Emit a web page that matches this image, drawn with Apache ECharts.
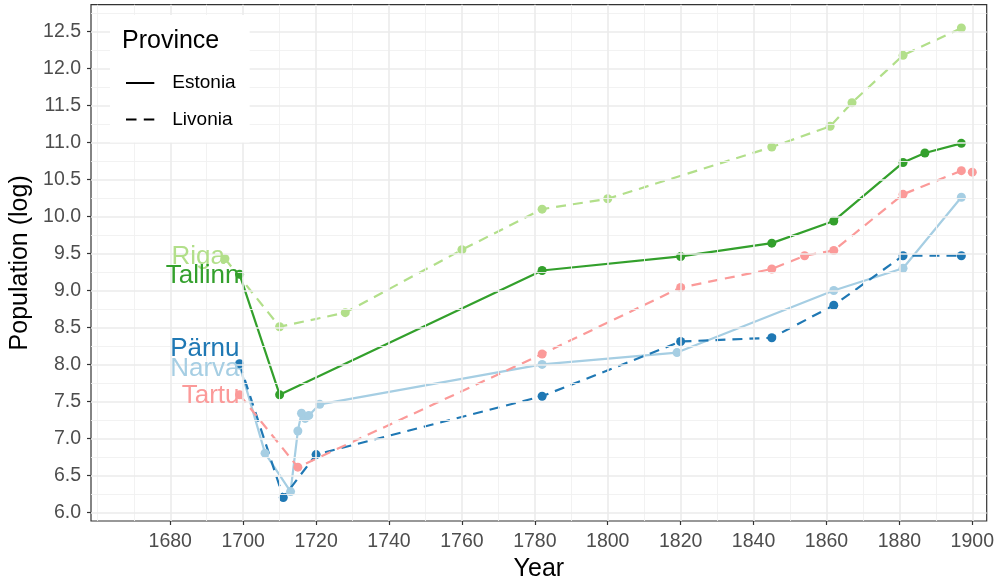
<!DOCTYPE html>
<html>
<head>
<meta charset="utf-8">
<script src="https://cdn.jsdelivr.net/npm/echarts@6/dist/echarts.min.js"></script>
<style>
  html, body { margin: 0; padding: 0; background: #ffffff; }
  #chart { width: 998px; height: 581px; }
</style>
</head>
<body>
<div id="chart"></div>
<script>
// ---- data: log population by town and year ----
const narvaYears   = [1699, 1706, 1713, 1715, 1716, 1717, 1718, 1721, 1782, 1819, 1862, 1881, 1897];
const narvaPop     = [7.99, 6.80, 6.28, 7.10, 7.34, 7.27, 7.31, 7.46, 8.00, 8.16, 9.00, 9.30, 10.26];

const parnuYears   = [1699, 1711, 1720, 1782, 1820, 1845, 1862, 1881, 1897];
const parnuPop     = [8.01, 6.20, 6.78, 7.57, 8.31, 8.36, 8.80, 9.47, 9.47];

const rigaYears    = [1695, 1710, 1728, 1760, 1782, 1800, 1845, 1861, 1867, 1881, 1897];
const rigaPop      = [9.43, 8.51, 8.70, 9.55, 10.10, 10.24, 10.94, 11.22, 11.54, 12.18, 12.55];

const tallinnYears = [1699, 1710, 1782, 1820, 1845, 1862, 1881, 1887, 1897];
const tallinnPop   = [9.22, 7.59, 9.27, 9.46, 9.64, 9.94, 10.73, 10.86, 10.99];

const tartuYears   = [1699, 1715, 1782, 1820, 1845, 1854, 1862, 1881, 1897, 1900];
const tartuPop     = [7.59, 6.61, 8.14, 9.04, 9.29, 9.47, 9.54, 10.30, 10.62, 10.60];

const townNames    = ['Narva', 'Pärnu', 'Riga', 'Tallinn', 'Tartu'];
const townProvince = ['Estonia', 'Livonia', 'Livonia', 'Estonia', 'Livonia'];
const provinces    = ['Estonia', 'Livonia'];

// axis breaks and scale limits
const xMajor = [1680, 1700, 1720, 1740, 1760, 1780, 1800, 1820, 1840, 1860, 1880, 1900];
const xMinor = [1660, 1670, 1690, 1710, 1730, 1750, 1770, 1790, 1810, 1830, 1850, 1870, 1890];
const yMajor = [6.0, 6.5, 7.0, 7.5, 8.0, 8.5, 9.0, 9.5, 10.0, 10.5, 11.0, 11.5, 12.0, 12.5];
const yMinor = [6.25, 6.75, 7.25, 7.75, 8.25, 8.75, 9.25, 9.75, 10.25, 10.75, 11.25, 11.75, 12.25, 12.75];
const xLimits = [1658.26, 1903.95];
const yLimits = [5.882, 12.865];

// ---- styling ----
const FONT = '"Liberation Sans", Arial, sans-serif';
const townColors = {
  'Narva': '#A6CEE3', 'Pärnu': '#1F78B4', 'Riga': '#B2DF8A',
  'Tallinn': '#33A02C', 'Tartu': '#FB9A99'
};
const dashPattern = [10, 7];
const lineType = p => (p === 'Estonia' ? 'solid' : dashPattern);
// legend keys: a solid bar and two dashes
const legendIcons = {
  'Estonia': 'path://M0,0H28.3V2H0Z',
  'Livonia': 'path://M0,0H10.5V2H0ZM17.8,0H28.3V2H17.8Z'
};
// vertical nudge of the town name drawn at each first point
const nameShift = { 'Narva': 4, 'Pärnu': -15, 'Riga': -2, 'Tallinn': 2, 'Tartu': 1 };

const towns = [
  [narvaYears, narvaPop], [parnuYears, parnuPop], [rigaYears, rigaPop],
  [tallinnYears, tallinnPop], [tartuYears, tartuPop]
].map(([yrs, pop], i) => ({
  name: townNames[i],
  province: townProvince[i],
  points: yrs.map((y, k) => [y, pop[k]])
}));

const series = [];

// panel grid lines (minor, then major)
function gridSeries(xs, ys, width, color) {
  return {
    type: 'line', data: [], silent: true, z: 1,
    markLine: {
      silent: true, symbol: ['none', 'none'], animation: false,
      label: { show: false },
      lineStyle: { color: color, width: width, type: 'solid' },
      emphasis: { disabled: true },
      data: xs.map(v => ({ xAxis: v })).concat(ys.map(v => ({ yAxis: v })))
    }
  };
}
series.push(gridSeries(xMinor, yMinor, 0.9, '#F0F0F0'));
series.push(gridSeries(xMajor, yMajor, 1.6, '#EBEBEB'));

// lines
towns.forEach(t => {
  series.push({
    type: 'line', name: t.name + ' line', data: t.points,
    showSymbol: false, symbol: 'none', z: 3, silent: true,
    lineStyle: { color: townColors[t.name], width: 2.2, type: lineType(t.province) },
    emphasis: { disabled: true }
  });
});

// points
towns.forEach(t => {
  series.push({
    type: 'scatter', name: t.name + ' points', data: t.points,
    symbol: 'circle', symbolSize: 9, z: 4, silent: true,
    itemStyle: { color: townColors[t.name], opacity: 1 },
    emphasis: { disabled: true }
  });
});

// town names at the first observation, right-aligned on the point
towns.forEach(t => {
  series.push({
    type: 'scatter', name: t.name + ' name', symbolSize: 0, z: 5, silent: true,
    itemStyle: { opacity: 0 },
    data: [{
      value: t.points[0],
      label: {
        show: true, formatter: t.name, position: 'left', distance: 0,
        offset: [0, nameShift[t.name]],
        color: townColors[t.name], opacity: 1, textBorderWidth: 0,
        fontSize: 26, fontFamily: FONT
      }
    }],
    emphasis: { disabled: true }
  });
});

// legend-only entries for the province line types
provinces.forEach(p => {
  series.push({
    type: 'line', name: p, data: [], symbol: 'none', color: '#000000',
    itemStyle: { color: '#000000' },
    lineStyle: { color: '#000000', width: 2, type: lineType(p) }
  });
});

const chart = echarts.init(document.getElementById('chart'), null, { renderer: 'canvas' });
chart.setOption({
  animation: false,
  backgroundColor: '#ffffff',
  textStyle: { fontFamily: FONT },
  grid: {
    left: 91, right: 11.3, top: 4.7, bottom: 60,
    containLabel: false, outerBoundsMode: 'none',
    show: true, backgroundColor: '#ffffff', borderColor: '#333333', borderWidth: 1.2
  },
  title: {
    text: 'Province', left: 122, top: 29, padding: 0, z: 8,
    textStyle: { fontFamily: FONT, fontSize: 25, fontWeight: 'normal', color: '#000000' }
  },
  legend: {
    data: provinces.map(p => ({ name: p, icon: legendIcons[p] })),
    orient: 'vertical', left: 110, top: 15, z: 7,
    backgroundColor: '#ffffff',
    padding: [57, 14, 12, 16],
    itemWidth: 28.3, itemHeight: 2, itemGap: 14.6,
    selectedMode: false,
    itemStyle: { color: '#000000', borderWidth: 0 },
    lineStyle: { width: 0 },
    textStyle: { fontFamily: FONT, fontSize: 19, color: '#000000', lineHeight: 22, padding: [0, 0, 0, 13] }
  },
  xAxis: {
    type: 'value', min: xLimits[0], max: xLimits[1],
    name: 'Year', nameLocation: 'middle', nameGap: 32,
    nameTextStyle: { fontFamily: FONT, fontSize: 25, color: '#000000' },
    axisLine: { show: false },
    splitLine: { show: false },
    axisTick: { show: true, customValues: xMajor, length: 4, lineStyle: { color: '#333333', width: 1.2 } },
    axisLabel: {
      customValues: xMajor, margin: 11, fontFamily: FONT, fontSize: 19.5, color: '#4D4D4D',
      formatter: v => String(Math.round(v))
    }
  },
  yAxis: {
    type: 'value', min: yLimits[0], max: yLimits[1],
    name: 'Population (log)', nameLocation: 'middle', nameGap: 54, nameRotate: 90,
    nameTextStyle: { fontFamily: FONT, fontSize: 25, color: '#000000' },
    axisLine: { show: false },
    splitLine: { show: false },
    axisTick: { show: true, customValues: yMajor, length: 4, lineStyle: { color: '#333333', width: 1.2 } },
    axisLabel: {
      customValues: yMajor, margin: 10, fontFamily: FONT, fontSize: 19.5, color: '#4D4D4D',
      formatter: v => Number(v).toFixed(1)
    }
  },
  series: series
});
</script>
</body>
</html>
